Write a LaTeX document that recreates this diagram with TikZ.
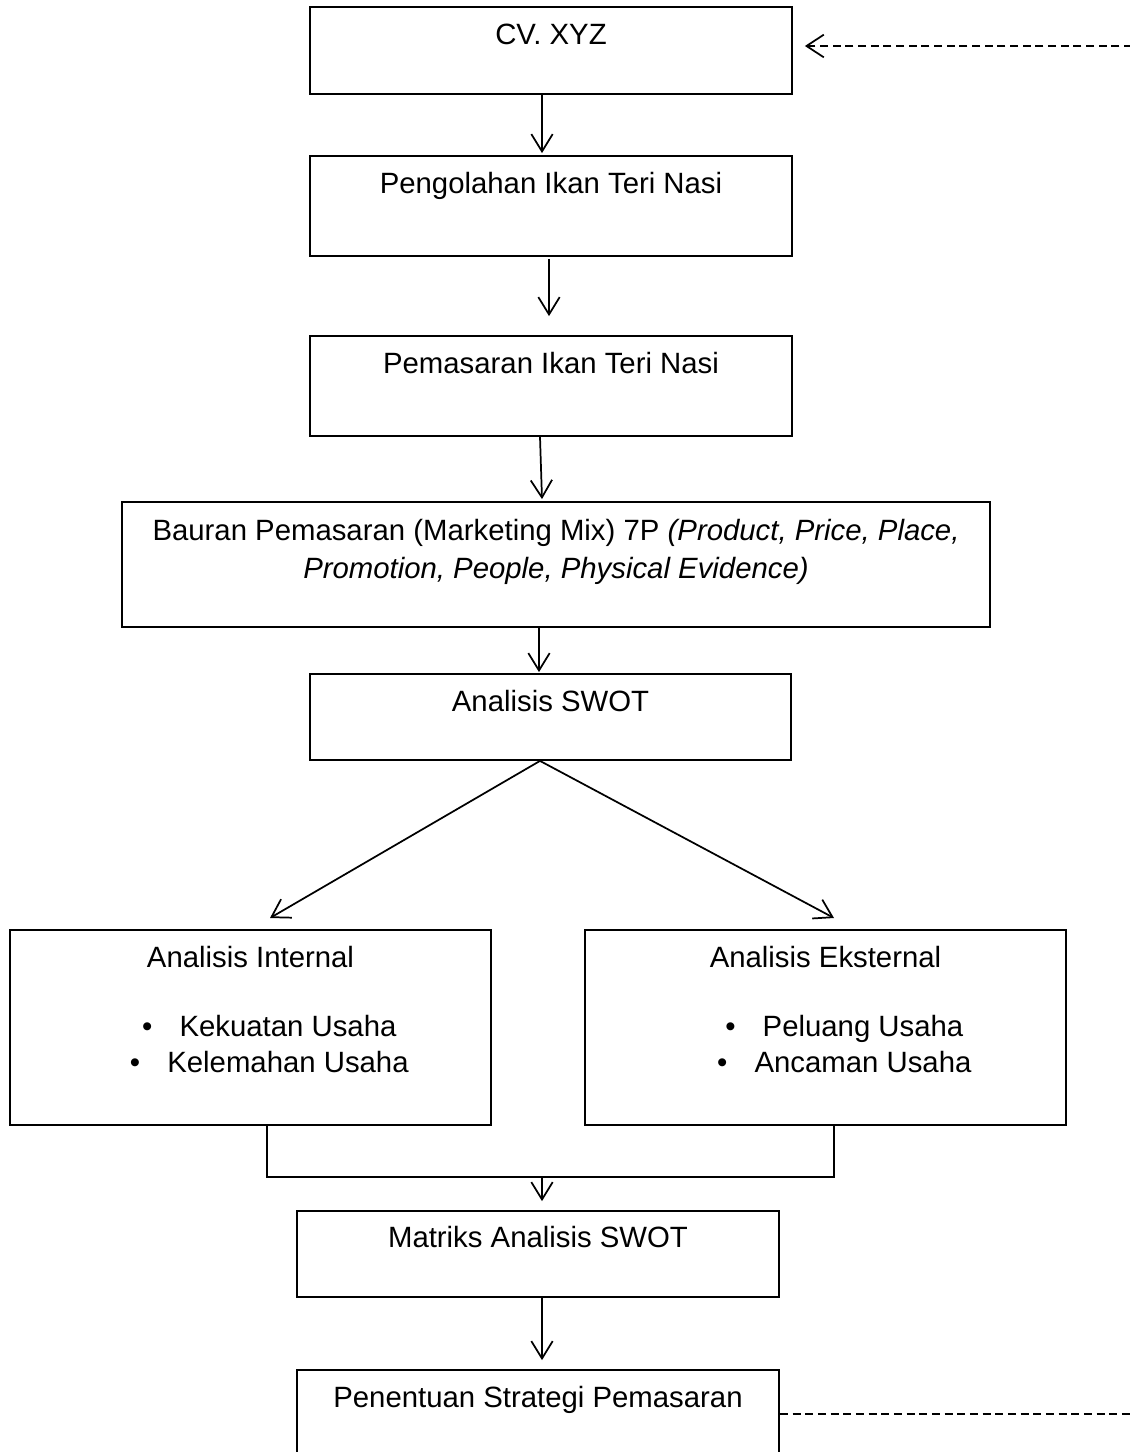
\documentclass[tikz,border=0pt]{standalone}
\usepackage{fontspec}
\setmainfont{Liberation Sans}
\usetikzlibrary{arrows.meta,calc,fit}
\begin{document}
\begin{tikzpicture}[x=0.75pt,y=-0.75pt,
  box/.style={draw, line width=1.35pt, inner sep=0pt},
  lbl/.style={anchor=base, inner sep=0pt, align=center, font=\fontsize{22pt}{28.5pt}\selectfont},
  arr/.style={line width=1.3pt, -{Straight Barb[length=13pt,width=16pt,line width=1.3pt]}},
  plain/.style={line width=1.35pt},
  dsh/.style={line width=1.3pt, dash pattern=on 6pt off 3.5pt}]
\useasboundingbox (0,0) rectangle (1130,1452);

% boxes
\node[box, fit={(310,7)(792,94)}] (cv) {};
\node[box, fit={(310,156)(792,256)}] (peng) {};
\node[box, fit={(310,336)(792,436)}] (pem) {};
\node[box, fit={(122,502)(990,627)}] (baur) {};
\node[box, fit={(310,674)(791,760)}] (swot) {};
\node[box, fit={(10,930)(491,1125)}] (int) {};
\node[box, fit={(585,930)(1066,1125)}] (ext) {};
\node[box, fit={(297,1211)(779,1297)}] (mat) {};
\node[box, fit={(297,1370)(779,1490)}] (pen) {};

% labels
\node[lbl] (tcv) at ($(cv.north)+(0,38)$) {CV. XYZ};
\node[lbl] (tpeng) at ($(peng.north)+(0,38)$) {Pengolahan Ikan Teri Nasi};
\node[lbl] (tpem) at ($(pem.north)+(0,38)$) {Pemasaran Ikan Teri Nasi};
\node[lbl] (tbaur1) at ($(baur.north)+(0,39)$) {Bauran Pemasaran (Marketing Mix) 7P \textit{(Product, Price, Place,}};
\node[lbl] (tbaur2) at ($(baur.north)+(0,77)$) {\textit{Promotion, People, Physical Evidence)}};
\node[lbl] (tswot) at ($(swot.north)+(0,38)$) {Analisis SWOT};
\node[lbl] (tint) at ($(int.north)+(0,38)$) {Analisis Internal};
\node[lbl] (ti1) at ($(int.north)+(37.5,107)$) {Kekuatan Usaha};
\node[lbl] (ti2) at ($(int.north)+(37.5,143)$) {Kelemahan Usaha};
\node[lbl] (bi1) at ($(ti1.base west)+(-32,0)$) {•};
\node[lbl] (bi2) at ($(ti2.base west)+(-32,0)$) {•};
\node[lbl] (text) at ($(ext.north)+(0,38)$) {Analisis Eksternal};
\node[lbl] (te1) at ($(ext.north)+(37.5,107)$) {Peluang Usaha};
\node[lbl] (te2) at ($(ext.north)+(37.5,143)$) {Ancaman Usaha};
\node[lbl] (be1) at ($(te1.base west)+(-32,0)$) {•};
\node[lbl] (be2) at ($(te2.base west)+(-32,0)$) {•};
\node[lbl] (tmat) at ($(mat.north)+(0,37)$) {Matriks Analisis SWOT};
\node[lbl] (tpen) at ($(pen.north)+(0,38)$) {Penentuan Strategi Pemasaran};

% helper coordinates
\coordinate (xa) at (542,0);
\coordinate (xb) at (549,0);
\coordinate (xc) at (540,0);
\coordinate (xd) at (539,0);
\coordinate (dl) at (270,918);
\coordinate (dr) at (834,918);
\coordinate (ml) at (267,1177);
\coordinate (mr) at (834,1177);
\coordinate (jn) at (542,1177);
\coordinate (rt) at (1132,46);
\coordinate (rb) at (1132,1414);

% connectors
\draw[arr] (cv.south -| xa) -- ($(peng.north -| xa)+(0,-2)$);
\draw[arr] ($(peng.south -| xb)+(0,2)$) -- ($(pem.north -| xb)+(0,-19)$);
\draw[arr] (pem.south -| xc) -- ($(baur.north -| xa)+(0,-2)$);
\draw[arr] (baur.south -| xd) -- ($(swot.north -| xd)+(0,-1)$);
\draw[arr] (swot.south -| xc) -- (dl);
\draw[arr] (swot.south -| xc) -- (dr);
\draw[plain] (int.south -| ml) -- (ml) -- (mr) -- (ext.south -| mr);
\draw[arr] (jn) -- ($(mat.north -| jn)+(0,-9)$);
\draw[arr] (mat.south -| xa) -- ($(pen.north -| xa)+(0,-9)$);
\draw[dsh, -{Straight Barb[length=13pt,width=17pt,line width=1.3pt]}] (rt) -- ($(cv.east |- rt)+(12,0)$);
\draw[dsh] (pen.east |- rb) -- (rb);
\end{tikzpicture}
\end{document}
